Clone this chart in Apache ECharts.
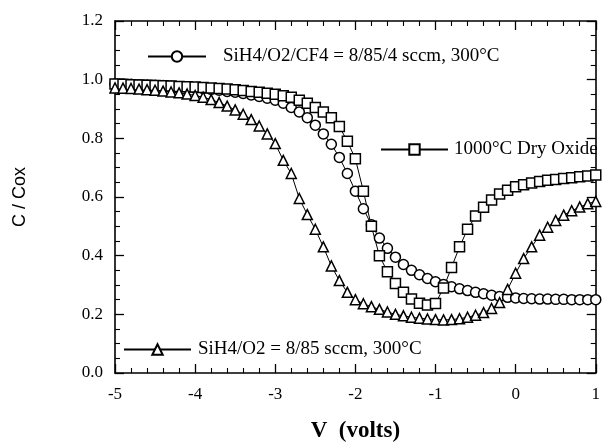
<!DOCTYPE html>
<html>
<head>
<meta charset="utf-8">
<script src="https://cdn.jsdelivr.net/npm/echarts@6/dist/echarts.min.js"></script>
<style>
  html, body { margin: 0; padding: 0; background: #fff; }
  #chart { width: 603px; height: 448px; }
</style>
</head>
<body>
<div id="chart"></div>
<script>
// gate voltage (V), step 0.1
var volts = [-5.0,-4.9,-4.8,-4.7,-4.6,-4.5,-4.4,-4.3,-4.2,-4.1,
             -4.0,-3.9,-3.8,-3.7,-3.6,-3.5,-3.4,-3.3,-3.2,-3.1,
             -3.0,-2.9,-2.8,-2.7,-2.6,-2.5,-2.4,-2.3,-2.2,-2.1,
             -2.0,-1.9,-1.8,-1.7,-1.6,-1.5,-1.4,-1.3,-1.2,-1.1,
             -1.0,-0.9,-0.8,-0.7,-0.6,-0.5,-0.4,-0.3,-0.2,-0.1,
              0.0, 0.1, 0.2, 0.3, 0.4, 0.5, 0.6, 0.7, 0.8, 0.9, 1.0];

// SiH4/O2/CF4 = 8/85/4 sccm, 300°C (circles)
var cf4Values = [0.985,0.985,0.984,0.983,0.982,0.981,0.980,0.978,0.976,0.974,
                 0.972,0.970,0.967,0.964,0.960,0.957,0.953,0.948,0.943,0.937,
                 0.930,0.920,0.905,0.890,0.870,0.845,0.815,0.780,0.735,0.680,
                 0.620,0.560,0.505,0.460,0.425,0.395,0.370,0.350,0.335,0.322,
                 0.311,0.302,0.294,0.287,0.281,0.275,0.270,0.265,0.261,0.258,
                 0.256,0.254,0.253,0.252,0.252,0.251,0.251,0.250,0.250,0.250,0.250];

// 1000°C Dry Oxide (squares)
var dryValues = [0.985,0.984,0.983,0.982,0.981,0.980,0.979,0.978,0.977,0.976,
                 0.975,0.973,0.972,0.970,0.968,0.966,0.963,0.960,0.957,0.954,
                 0.950,0.945,0.940,0.930,0.920,0.905,0.890,0.870,0.840,0.790,
                 0.730,0.620,0.500,0.400,0.345,0.305,0.275,0.252,0.238,0.232,
                 0.237,0.290,0.360,0.430,0.490,0.535,0.565,0.590,0.610,0.623,
                 0.635,0.642,0.648,0.653,0.657,0.660,0.663,0.666,0.669,0.672,0.675];

// SiH4/O2 = 8/85 sccm, 300°C (triangles)
var o2Values = [0.972,0.971,0.970,0.968,0.966,0.964,0.961,0.958,0.955,0.951,
                0.946,0.940,0.932,0.922,0.910,0.897,0.882,0.864,0.842,0.815,
                0.782,0.725,0.680,0.595,0.540,0.490,0.430,0.365,0.315,0.275,
                0.250,0.236,0.226,0.217,0.208,0.200,0.195,0.190,0.187,0.184,
                0.182,0.181,0.182,0.185,0.190,0.197,0.206,0.220,0.240,0.285,
                0.340,0.390,0.430,0.470,0.497,0.520,0.538,0.553,0.566,0.577,0.585];

var xTicks = [-5, 1, 1];      // min, max, interval
var yTicks = [0, 1.2, 0.2];

var names = ['SiH4/O2/CF4 = 8/85/4 sccm, 300°C', '1000°C Dry Oxide', 'SiH4/O2 = 8/85 sccm, 300°C'];

function pairs(vals) {
    return vals.map(function (v, i) { return [volts[i], v]; });
}

var serif = '"Liberation Serif", "Times New Roman", serif';

var myChart = echarts.init(document.getElementById('chart'), null, { renderer: 'canvas' });

function frameAxis(pos, t, minorSplit) {
    return {
        type: 'value',
        position: pos,
        min: t[0], max: t[1], interval: t[2],
        axisLine: { show: true, onZero: false, lineStyle: { color: '#000', width: 1.6 } },
        axisTick: { show: true, inside: true, length: 9, lineStyle: { color: '#000', width: 1.3 } },
        minorTick: { show: true, splitNumber: minorSplit, length: 5, lineStyle: { color: '#000', width: 1.1 } },
        axisLabel: { show: false },
        splitLine: { show: false }
    };
}

var xBottom = frameAxis('bottom', xTicks, 5);
xBottom.axisLabel = { show: true, margin: 13, color: '#000', fontFamily: serif, fontSize: 17 };
xBottom.name = 'V  (volts)';
xBottom.nameLocation = 'middle';
xBottom.nameGap = 47;
xBottom.nameTextStyle = { color: '#000', fontFamily: serif, fontSize: 23, fontWeight: 'bold' };

var yLeft = frameAxis('left', yTicks, 4);
yLeft.axisLabel = { show: true, margin: 12, color: '#000', fontFamily: serif, fontSize: 17,
    formatter: function (v) { return v.toFixed(1); } };
yLeft.name = 'C / Cox';
yLeft.nameLocation = 'middle';
yLeft.nameGap = 86;
yLeft.nameTextStyle = { color: '#000', fontFamily: '"Liberation Sans", Arial, sans-serif', fontSize: 18 };

function seriesOf(name, symbol, vals) {
    return {
        name: name,
        type: 'line',
        data: pairs(vals),
        symbol: symbol,
        symbolSize: 10,
        showAllSymbol: true,
        itemStyle: { color: '#fff', borderColor: '#000', borderWidth: 1.5 },
        lineStyle: { color: '#000', width: 1 },
        emphasis: { disabled: true },
        z: 3
    };
}

function legendOf(name, left, top, w, pad) {
    return {
        data: [name],
        left: left, top: top,
        padding: 0,
        itemWidth: w, itemHeight: 13,
        selectedMode: false,
        textStyle: { color: '#000', fontFamily: serif, fontSize: 19, padding: [0, 0, 0, pad] }
    };
}

var option = {
    animation: false,
    backgroundColor: '#fff',
    grid: { left: 115, right: 2, top: 21, bottom: 70 },
    xAxis: [xBottom, frameAxis('top', xTicks, 5)],
    yAxis: [yLeft, frameAxis('right', yTicks, 4)],
    legend: [
        legendOf(names[0], 147, 47, 58, 12),
        legendOf(names[1], 380, 140, 67, 1),
        legendOf(names[2], 123, 340, 67, 2)
    ],
    series: [
        seriesOf(names[0], 'circle', cf4Values),
        seriesOf(names[1], 'rect', dryValues),
        seriesOf(names[2], 'triangle', o2Values)
    ]
};

myChart.setOption(option);
</script>
</body>
</html>
